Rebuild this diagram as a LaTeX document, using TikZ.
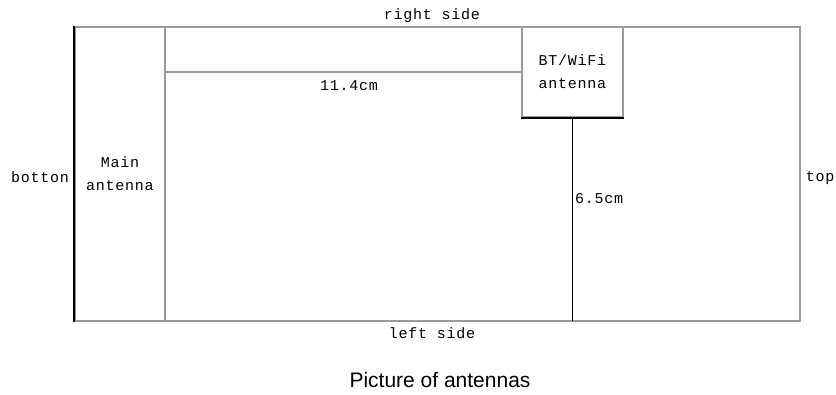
\documentclass[tikz,border=0pt]{standalone}
\usepackage{fontspec}
\newfontfamily\monolabel[LetterSpace=5]{Liberation Mono}
\newfontfamily\captionsans{Liberation Sans}
\definecolor{edgegray}{HTML}{9A9A96}
\tikzstyle{grayline}=[draw=edgegray,line width=1.4pt]
\tikzstyle{blackline}=[draw=black,line width=1.7pt]
\tikzstyle{antbox}=[rectangle,grayline,inner sep=0pt,align=center,
                    font=\monolabel\fontsize{15}{23}\selectfont]
\tikzstyle{lbl}=[inner sep=0pt,
                 font=\monolabel\fontsize{15}{17}\selectfont]

\begin{document}
\begin{tikzpicture}[x=1pt,y=-1pt]
    \useasboundingbox (0,0) rectangle (836,394);
    \coordinate (b1) at (75,27);
    \coordinate (b3) at (800,321);
    \draw[grayline] (b1) rectangle (b3);
    \node (mainant) at (120,174) [antbox,minimum width=90pt,
                                  minimum height=294pt]{Main\\antenna};
    \draw[blackline] (mainant.north west) -- (mainant.south west);
    \node (bt) at (572.5,72) [antbox,minimum width=101pt,
                              minimum height=90pt]{BT/WiFi\\antenna};
    \draw[grayline] (mainant.east |- bt.west) -- (bt.west);
    \draw[blackline] (bt.south west) -- (bt.south east);
    \draw[blackline] (bt.south) -- (bt.south |- b3);
    \node (rightside) at (432,16) [lbl]{right side};
    \node (leftside) at (432,333) [lbl]{left side};
    \node (len1) at (349,86) [lbl]{11.4cm};
    \node (len2) at (599,199) [lbl]{6.5cm};
    \node (botton) at (40,177) [lbl]{botton};
    \node (top) at (820,178) [lbl]{top};
    \node (caption) at (440,380) [inner sep=0pt,
          font=\captionsans\fontsize{21}{23}\selectfont]{Picture of antennas};
  \end{tikzpicture}
\end{document}
